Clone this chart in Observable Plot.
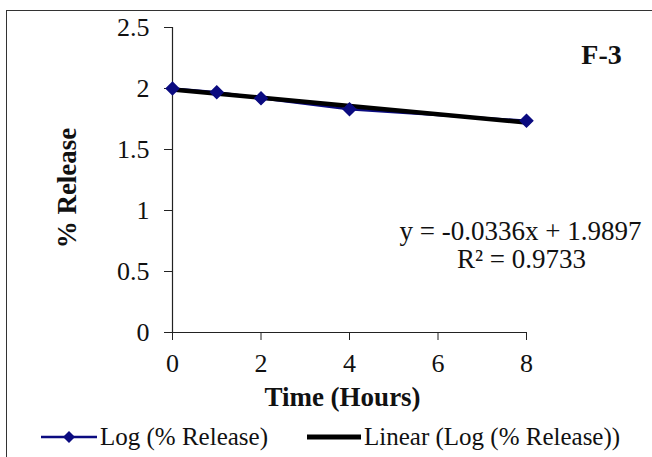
<!DOCTYPE html>
<html>
<head>
<meta charset="utf-8">
<script src="https://cdn.jsdelivr.net/npm/d3@7"></script>
<script src="https://cdn.jsdelivr.net/npm/@observablehq/plot@0.6"></script>
<style>
  html, body { margin: 0; padding: 0; background: #fff; overflow: hidden; }
  #wrap { position: relative; width: 652px; height: 457px; overflow: hidden; background: #fff; }
  #border { position: absolute; left: 6px; top: 10px; width: 700px; height: 500px; border: 1.5px solid #333; box-sizing: border-box; pointer-events: none; }
  #chart { position: absolute; left: 0; top: 0; }
  #legend { position: absolute; left: 0; top: 420px; width: 652px; height: 34px; font-family: "Liberation Serif", serif; font-size: 25px; color: #111; }
  .item { position: absolute; top: 0; height: 34px; display: flex; align-items: center; white-space: nowrap; }
  .item svg { display: block; margin-right: 3px; }
</style>
</head>
<body>
<div id="wrap">
  <div id="chart"></div>
  <div id="legend"></div>
  <div id="border"></div>
</div>
<script>
// Data
const times = [0, 1, 2, 4, 8];
const logRelease = [2.00, 1.97, 1.92, 1.83, 1.735];
const xTicks = [0, 2, 4, 6, 8];
const yTicks = [0, 0.5, 1, 1.5, 2, 2.5];
const seriesNames = ["Log (% Release)", "Linear (Log (% Release))"];
const equationText = "y = -0.0336x + 1.9897";
const r2Text = "R² = 0.9733";
const panelLabel = "F-3";
const xLabel = "Time (Hours)";
const yLabel = "% Release";

const NAVY = "#0b0b80";
const data = times.map((t, i) => ({t, v: logRelease[i]}));

const textOpts = {textAnchor: "middle", lineAnchor: "middle", fill: "#111"};

const chart = Plot.plot({
  width: 652,
  height: 418,
  marginLeft: 172,
  marginRight: 126,
  marginTop: 27,
  marginBottom: 86,
  style: {fontFamily: "Liberation Serif, serif", fontSize: "26px", color: "#111", background: "transparent", overflow: "visible"},
  x: {domain: [0, 8]},
  y: {domain: [0, 2.5]},
  marks: [
    Plot.axisX({ticks: xTicks, tickSize: 8, tickPadding: 13, tickFormat: d => String(d), label: null, stroke: "#222"}),
    Plot.axisY({ticks: yTicks, tickSize: 8, tickPadding: 15, tickFormat: d => String(d), label: null, stroke: "#222"}),
    Plot.ruleX([0], {stroke: "#222", strokeWidth: 1.2}),
    Plot.ruleY([0], {stroke: "#222", strokeWidth: 1.2}),
    Plot.line(data, {x: "t", y: "v", stroke: NAVY, strokeWidth: 2.5}),
    Plot.linearRegressionY(data, {x: "t", y: "v", stroke: "#000", strokeWidth: 4.5, ci: 0}),
    Plot.dot(data, {x: "t", y: "v", symbol: "diamond2", fill: NAVY, stroke: NAVY, r: 5.6}),
    Plot.text([panelLabel], {...textOpts, frameAnchor: "top-right", dx: 75, dy: 28, fontWeight: "bold", fontSize: 28}),
    Plot.text([equationText], {...textOpts, frameAnchor: "right", dx: -6, dy: 51, fontSize: 27}),
    Plot.text([r2Text], {...textOpts, frameAnchor: "right", dx: -5, dy: 79, fontSize: 27}),
    Plot.text([yLabel], {...textOpts, frameAnchor: "left", dx: -105, dy: 8, rotate: -90, fontWeight: "bold", fontSize: 27}),
    Plot.text([xLabel], {...textOpts, frameAnchor: "bottom", dx: -7, dy: 65, fontWeight: "bold", fontSize: 27})
  ]
});
document.getElementById("chart").appendChild(chart);

// Legend
const legend = document.getElementById("legend");
const swatches = [
  `<svg width="56" height="20"><line x1="0" y1="10" x2="56" y2="10" stroke="${NAVY}" stroke-width="2.5"/><path d="M28,4 L34,10 L28,16 L22,10 Z" fill="${NAVY}"/></svg>`,
  `<svg width="54" height="20"><line x1="0" y1="10" x2="54" y2="10" stroke="#000" stroke-width="5"/></svg>`
];
const lefts = [41, 307];
seriesNames.forEach((name, i) => {
  const div = document.createElement("div");
  div.className = "item";
  div.style.left = lefts[i] + "px";
  div.innerHTML = swatches[i] + `<span>${name}</span>`;
  legend.appendChild(div);
});
</script>
</body>
</html>
